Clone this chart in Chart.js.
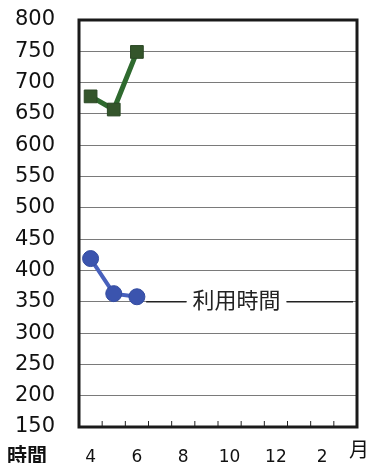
<!DOCTYPE html>
<html><head><meta charset="utf-8">
<script src="https://cdn.jsdelivr.net/npm/chart.js@4"></script>
<style>html,body{margin:0;padding:0;background:#fff}#wrap{width:367px;height:463px}</style>
</head><body><div id="wrap"><canvas id="c" width="367" height="463"></canvas></div>
<script>
const months = ['4','5','6','7','8','9','10','11','12','1','2','3'];
const shownMonths = ['4','6','8','10','12','2'];
const seriesA = [678, 657, 749];   // green (upper)
const seriesB = [419, 363, 358];   // blue (利用時間)
const yTicks = [150,200,250,300,350,400,450,500,550,600,650,700,750,800];
const annotationLabel = '利用時間';
const yUnit = '時間';
const xUnit = '月';

const deco = {
  id: 'deco',
  beforeDatasetsDraw(chart) {
    const {ctx, chartArea: a, scales: {x, y}} = chart;
    ctx.save();
    ctx.font = '22px "Noto Sans CJK JP"';
    ctx.textAlign = 'center'; ctx.textBaseline = 'middle';
    const tx = x.getPixelForValue(6.3), ty = y.getPixelForValue(350);
    const w = ctx.measureText(annotationLabel).width;
    ctx.fillStyle = '#fff';
    ctx.fillRect(tx - w/2 - 6, ty - 12, w + 12, 24);
    ctx.strokeStyle = '#222'; ctx.lineWidth = 1.3;
    ctx.beginPath();
    ctx.moveTo(x.getPixelForValue(2.4), ty); ctx.lineTo(tx - w/2 - 6, ty);
    ctx.moveTo(tx + w/2 + 6, ty); ctx.lineTo(a.right - 4, ty);
    ctx.stroke();
    ctx.fillStyle = '#222';
    ctx.fillText(annotationLabel, tx, ty - 2);
    ctx.restore();
  },
  afterDraw(chart) {
    const {ctx, chartArea: a, scales: {x}} = chart;
    ctx.save();
    ctx.strokeStyle = '#222'; ctx.lineWidth = 1;
    ctx.beginPath();
    for (let i = 0; i < months.length - 1; i++) {
      const px = (x.getPixelForValue(i) + x.getPixelForValue(i + 1)) / 2;
      ctx.moveTo(px, a.bottom); ctx.lineTo(px, a.bottom - 6);
    }
    ctx.stroke();
    ctx.strokeStyle = '#1a1a1a'; ctx.lineWidth = 3;
    ctx.strokeRect(a.left, a.top, a.right - a.left, a.bottom - a.top);
    ctx.fillStyle = '#111';
    ctx.textBaseline = 'middle';
    ctx.font = 'bold 20px "Noto Sans CJK JP"';
    ctx.textAlign = 'left';
    ctx.fillText(yUnit, 7, 455);
    ctx.font = '20px "Noto Sans CJK JP"';
    ctx.fillText(xUnit, 349, 449);
    ctx.restore();
  }
};

new Chart(document.getElementById('c'), {
  type: 'line',
  data: {
    labels: months,
    datasets: [
      { data: seriesA, borderColor: '#2f6a2f', backgroundColor: '#34552b', borderWidth: 5,
        pointStyle: 'rect', pointRadius: 9, pointHoverRadius: 9, pointBorderColor: '#2b4825', pointBorderWidth: 1, tension: 0 },
      { data: seriesB, borderColor: '#4861bd', backgroundColor: '#3b54ae', borderWidth: 4,
        pointStyle: 'circle', pointRadius: 8, pointHoverRadius: 8, pointBorderColor: '#344ca0', pointBorderWidth: 1, tension: 0 }
    ]
  },
  options: {
    responsive: false, animation: false, devicePixelRatio: 1,
    layout: { padding: { top: 20, right: 7, bottom: 0, left: 0 } },
    plugins: { legend: { display: false }, tooltip: { enabled: false } },
    scales: {
      x: {
        type: 'category', offset: true,
        grid: { display: false, drawTicks: false },
        border: { display: false },
        ticks: { color: '#111', font: { family: 'DejaVu Sans', size: 17 }, padding: 20, autoSkip: false, maxRotation: 0,
          callback: (v, i) => shownMonths.includes(months[i]) ? months[i] : '' },
        afterFit: s => { s.height = 36; s.paddingLeft = 0; s.paddingRight = 0; }
      },
      y: {
        min: 150, max: 800,
        afterBuildTicks: s => { s.ticks = yTicks.map(v => ({ value: v })); },
        grid: { color: '#7a7a7a', lineWidth: 1, drawTicks: false },
        border: { display: false },
        ticks: { color: '#111', font: { family: 'DejaVu Sans', size: 21 }, padding: 24 },
        afterFit: s => { s.width = 79; s.paddingTop = 0; s.paddingBottom = 0; }
      }
    }
  },
  plugins: [deco]
});
</script>
</body></html>
